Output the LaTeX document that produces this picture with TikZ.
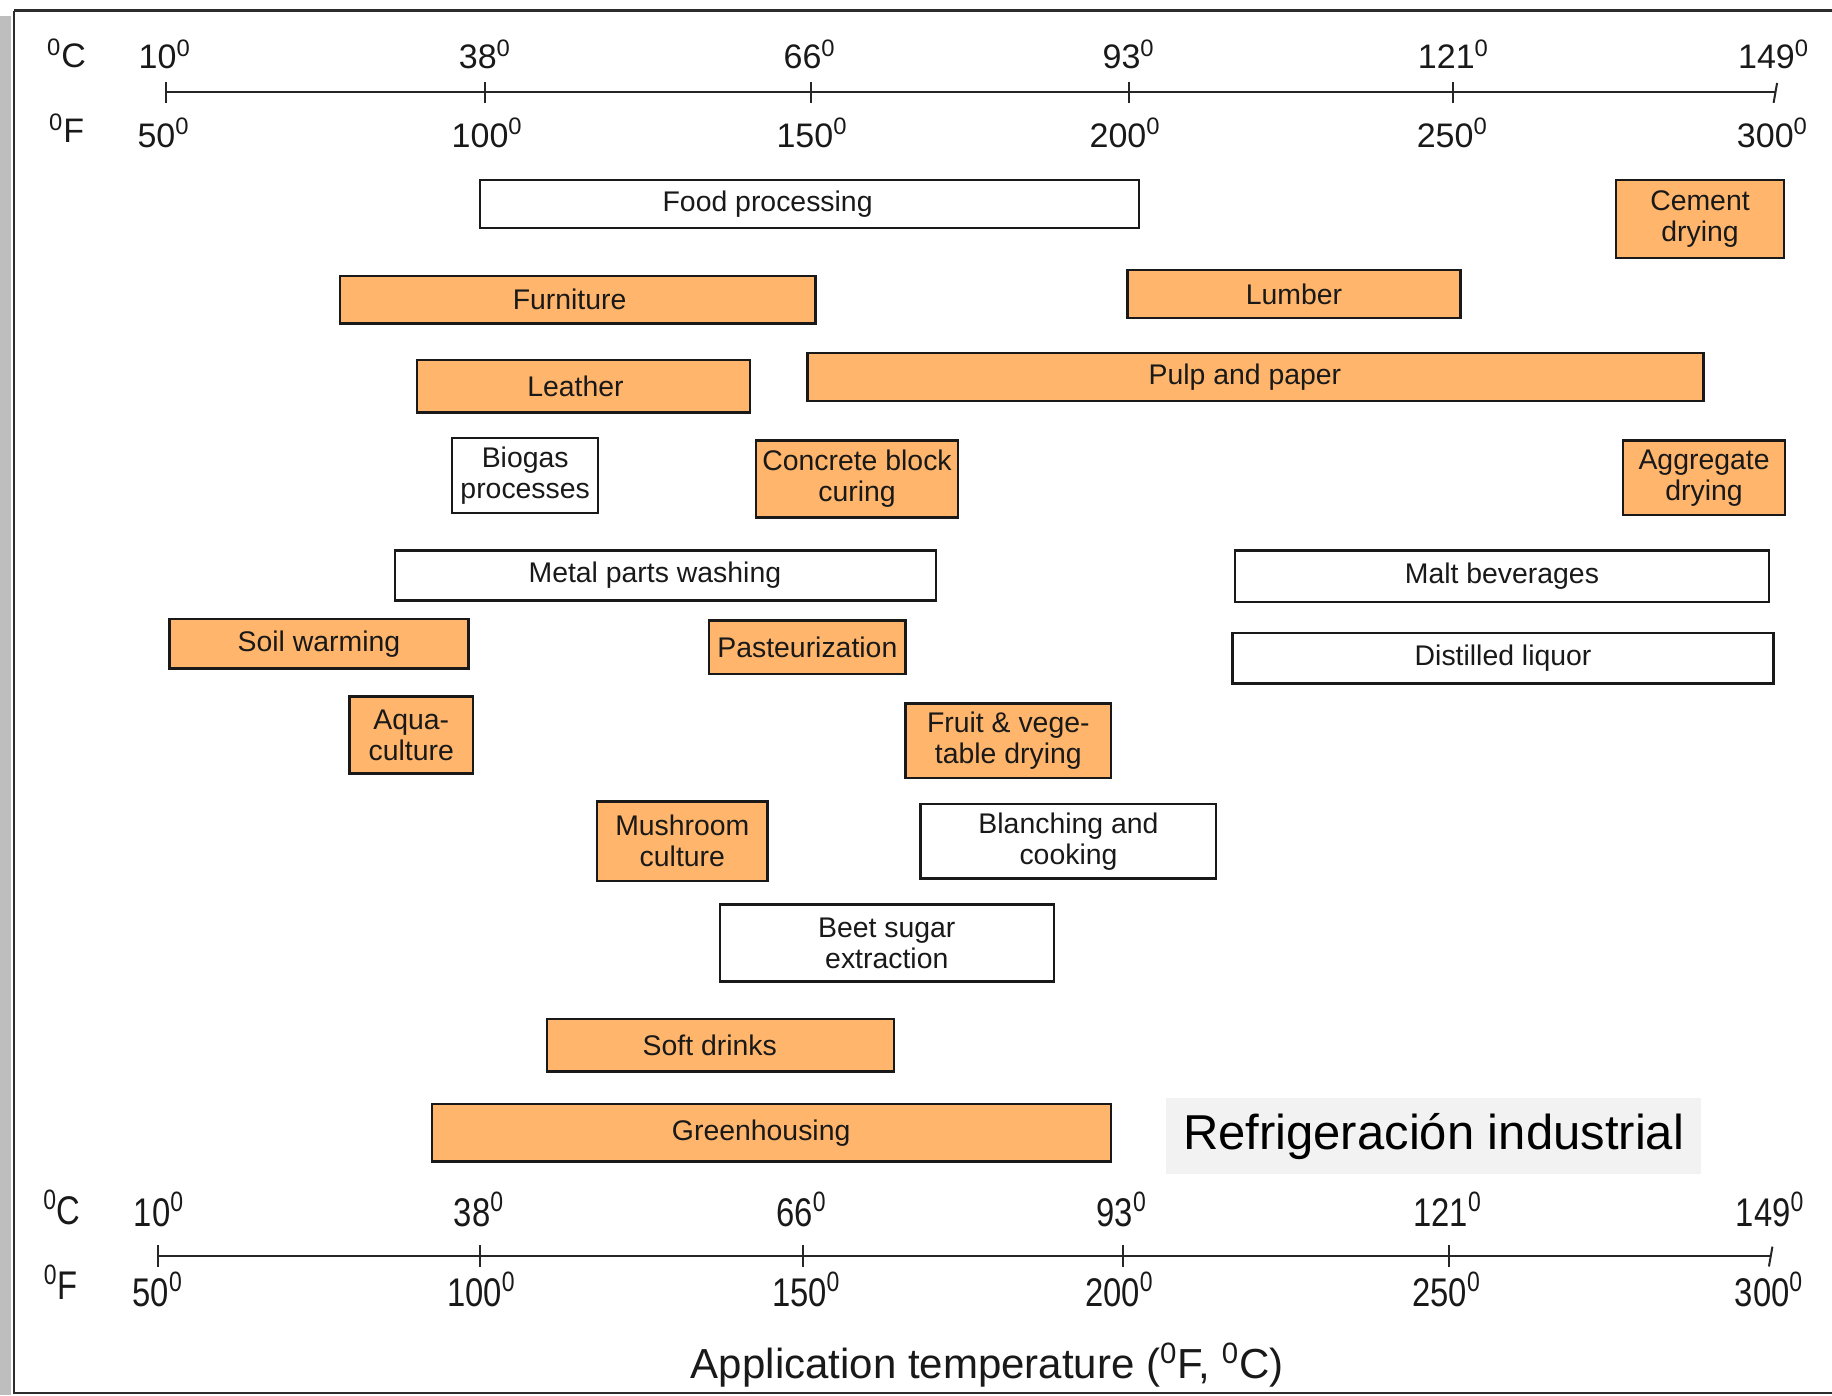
\documentclass[tikz,border=0pt]{standalone}
\usepackage{fontspec}
\setmainfont{Liberation Sans}
\definecolor{boxorange}{RGB}{255,181,107}
\definecolor{framegray}{RGB}{45,45,45}
\definecolor{notegray}{RGB}{242,242,242}
\definecolor{stripgray}{RGB}{190,190,190}
\newcommand\dg{\textsuperscript{0}}
\newcommand\narrowtxt[1]{\scalebox{0.82}[1]{#1}}
% style, name, x1, y1, x2, y2, text
\newcommand\appbox[7]{%
  \pgfmathsetmacro\bxw{(#5-#3)*0.58418}%
  \pgfmathsetmacro\bxh{(#6-#4)*0.58418}%
  \node[#1, minimum width=\bxw pt, minimum height=\bxh pt] (#2) at ({(#3+#5)/2},{(#4+#6)/2}) {#7};%
}
% shift single-line text left by #1 (picture units)
\newcommand\txtleft[2]{#2\kern\dimexpr 1.16836pt*#1\relax}
\begin{document}
\begin{tikzpicture}[x=0.58418pt,y=-0.58418pt,
  basebox/.style={draw=black!90, line width=1.2pt, inner sep=0pt, align=center,
    font=\fontsize{14.2}{15.5}\selectfont, text=black!90},
  obox/.style={basebox, fill=boxorange},
  wbox/.style={basebox, fill=white},
  notebox/.style={fill=notegray, inner sep=0pt, font=\fontsize{24.5}{28}\selectfont, text=black},
  axisline/.style={line width=1pt, draw=black!85},
  toplbl/.style={font=\fontsize{17}{20}\selectfont, anchor=base, inner sep=0pt, text=black!90},
  botlbl/.style={font=\fontsize{20}{24}\selectfont, anchor=base, inner sep=0pt, text=black!90}]
\useasboundingbox (0,0) rectangle (1568,1194);
% background and frame
\fill[white] (0,0) rectangle (1568,1194);
\fill[stripgray] (0,14) rectangle (9,1194);
\draw[framegray, line width=1.1pt] (12,9) -- (1572,9);
\draw[framegray, line width=1.1pt] (12,9) -- (12,1192) -- (1572,1192);

% ---------- top axis ----------
\coordinate (tA) at (142,79);
\coordinate (tB) at (1519,79);
\draw[axisline] (tA) -- (tB);
\foreach \x in {142,415,694,966,1244} \draw[axisline] (\x,70) -- (\x,88);
\draw[axisline] (1521,71) -- (1518,88);
\node[toplbl] (tCu) at (57,58) {\dg C};
\node[toplbl] (tFu) at (57,122) {\dg F};
\node[toplbl] (tc1) at (141,59) {10\dg};
\node[toplbl] (tc2) at (415,59) {38\dg};
\node[toplbl] (tc3) at (693,59) {66\dg};
\node[toplbl] (tc4) at (966,59) {93\dg};
\node[toplbl] (tc5) at (1244,59) {121\dg};
\node[toplbl] (tc6) at (1518,59) {149\dg};
\node[toplbl] (tf1) at (140,126) {50\dg};
\node[toplbl] (tf2) at (417,126) {100\dg};
\node[toplbl] (tf3) at (695,126) {150\dg};
\node[toplbl] (tf4) at (963,126) {200\dg};
\node[toplbl] (tf5) at (1243,126) {250\dg};
\node[toplbl] (tf6) at (1517,126) {300\dg};

% ---------- bottom axis ----------
\coordinate (bA) at (135,1075);
\coordinate (bB) at (1515,1075);
\draw[axisline] (bA) -- (bB);
\foreach \x in {135,411,687,961,1240} \draw[axisline] (\x,1066) -- (\x,1084);
\draw[axisline] (1517,1067) -- (1514,1084);
\node[botlbl] (bCu) at (53,1048) {\narrowtxt{\dg C}};
\node[botlbl] (bFu) at (52,1112) {\narrowtxt{\dg F}};
\node[botlbl] (bc1) at (136,1050) {\narrowtxt{10\dg}};
\node[botlbl] (bc2) at (410,1050) {\narrowtxt{38\dg}};
\node[botlbl] (bc3) at (686,1050) {\narrowtxt{66\dg}};
\node[botlbl] (bc4) at (960,1050) {\narrowtxt{93\dg}};
\node[botlbl] (bc5) at (1239,1050) {\narrowtxt{121\dg}};
\node[botlbl] (bc6) at (1515,1050) {\narrowtxt{149\dg}};
\node[botlbl] (bf1) at (135,1118) {\narrowtxt{50\dg}};
\node[botlbl] (bf2) at (412,1118) {\narrowtxt{100\dg}};
\node[botlbl] (bf3) at (690,1118) {\narrowtxt{150\dg}};
\node[botlbl] (bf4) at (958,1118) {\narrowtxt{200\dg}};
\node[botlbl] (bf5) at (1238,1118) {\narrowtxt{250\dg}};
\node[botlbl] (bf6) at (1514,1118) {\narrowtxt{300\dg}};
\node[anchor=base, inner sep=0pt, text=black!90, font=\fontsize{21}{25}\selectfont]
  (xlabel) at (845,1180) {Application temperature (\dg F, \dg C)};

% ---------- note ----------
\appbox{notebox}{note}{998}{940}{1456}{1005}{Refrigeración industrial}

% ---------- application boxes ----------
\appbox{wbox}{food}{411}{154}{975}{195}{\txtleft{36}{Food processing}}
\appbox{obox}{cement}{1383}{154}{1527}{221}{Cement\\drying}
\appbox{obox}{furniture}{291}{236}{698}{277}{\txtleft{7}{Furniture}}
\appbox{obox}{lumber}{965}{231}{1250}{272}{Lumber}
\appbox{obox}{leather}{357}{308}{642}{353}{\txtleft{7}{Leather}}
\appbox{obox}{pulp}{691}{302}{1458}{343}{\txtleft{9}{Pulp and paper}}
\appbox{wbox}{biogas}{387}{375}{512}{439}{Biogas\\processes}
\appbox{obox}{concrete}{647}{377}{820}{443}{Concrete block\\curing}
\appbox{obox}{aggregate}{1389}{377}{1528}{441}{Aggregate\\drying}
\appbox{wbox}{metal}{338}{471}{801}{514}{\txtleft{9}{Metal parts washing}}
\appbox{wbox}{malt}{1057}{471}{1514}{515}{Malt beverages}
\appbox{obox}{soil}{145}{530}{401}{572}{Soil warming}
\appbox{obox}{pasteur}{607}{531}{775}{577}{Pasteurization}
\appbox{wbox}{liquor}{1055}{542}{1518}{585}{Distilled liquor}
\appbox{obox}{aqua}{299}{596}{405}{662}{Aqua-\\culture}
\appbox{obox}{fruit}{775}{602}{951}{666}{Fruit \& vege-\\table drying}
\appbox{obox}{mushroom}{511}{686}{657}{754}{Mushroom\\culture}
\appbox{wbox}{blanch}{788}{688}{1041}{752}{Blanching and\\cooking}
\appbox{wbox}{beet}{616}{774}{902}{840}{Beet sugar\\extraction}
\appbox{obox}{soft}{468}{872}{765}{917}{\txtleft{9}{Soft drinks}}
\appbox{obox}{green}{370}{945}{951}{994}{\txtleft{9}{Greenhousing}}
\end{tikzpicture}
\end{document}
